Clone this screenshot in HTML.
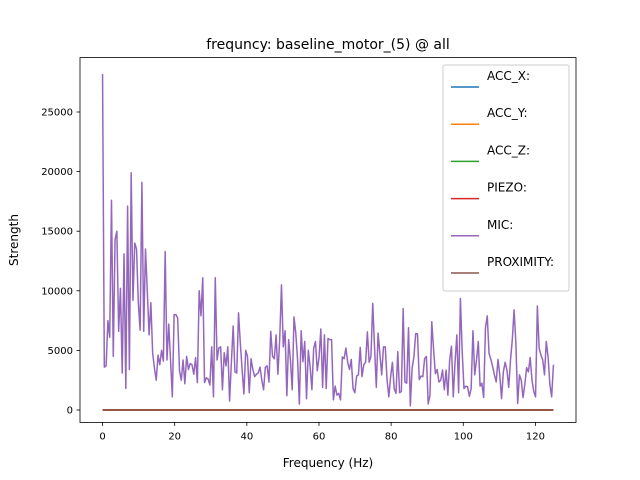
<!DOCTYPE html>
<html><head><meta charset="utf-8"><style>
html,body{margin:0;padding:0;background:#fff;}
svg{display:block;font-family:"DejaVu Sans","Liberation Sans",sans-serif;}
</style></head><body>
<svg id="chart" width="640" height="480">
<rect width="640" height="480" fill="#fff"/>
<text x="328" y="49" text-anchor="middle" font-size="14" fill="#000">frequncy: baseline_motor_(5) @ all</text>
<text x="328" y="467" text-anchor="middle" font-size="12">Frequency (Hz)</text>
<text transform="translate(18,240) rotate(-90)" text-anchor="middle" font-size="12">Strength</text>
<g id="plot"></g>
<rect x="80" y="57.6" width="496" height="364.8" fill="none" stroke="#000" stroke-width="0.8"/>
<g id="legend"></g>
</svg>
<script>
const seriesNames = ["ACC_X:","ACC_Y:","ACC_Z:","PIEZO:","MIC:","PROXIMITY:"];
const seriesColors = ["#1f77b4","#ff7f0e","#2ca02c","#d62728","#9467bd","#8c564b"];
const xTicks = [0,20,40,60,80,100,120];
const yTicks = [0,5000,10000,15000,20000,25000];
const freqMax = 125;
const micValues = [28200,3600,3700,7500,6100,17600,4500,14300,15000,6600,10200,3100,13100,1800,17100,3400,19900,9200,14000,13500,9000,6700,19100,6600,13500,10000,6300,9000,4800,3500,2500,4600,3800,5000,4100,13300,4200,7200,4200,1100,8000,8000,7700,3300,2500,4200,2200,4500,3400,3900,3800,3000,4400,2300,10000,7900,11100,2300,2700,2600,2100,5300,
1100,11100,4200,5200,5300,1700,4800,3700,5300,750,4000,7050,3200,3100,8150,5600,3400,1350,5000,4500,1450,4300,3400,2800,3000,3100,3600,2500,1700,3600,3700,2350,6600,4500,4300,6300,3000,5900,10500,5300,6650,1200,5900,4200,1700,7800,6450,4200,500,6650,4050,5750,950,5000,3650,1700,5200,5750,3300,4400,6800,1900,6300,
1800,6000,5900,5900,850,2000,1250,1400,850,4450,4300,5200,4000,3400,4250,1800,1450,2850,2950,5250,2800,3800,4000,6550,4000,4500,8950,5300,1900,6450,4700,2950,5300,5300,2550,1100,2800,4000,1800,1400,4900,1450,1550,8500,2350,2250,6900,350,3500,4450,6400,6400,2550,2850,2800,4300,4500,500,1250,7400,5100,3050,3400,2350,
2500,3350,1700,3350,1250,4200,5350,1100,4000,6300,1450,9350,4900,1800,2000,1950,1150,1800,6650,2950,4200,5750,2000,2250,1050,6900,7900,4750,4250,3650,2950,2350,4250,2950,950,3200,4000,3350,1900,4200,5900,8400,5600,550,2950,2500,1050,2150,3550,3200,4400,2500,1550,1100,8720,5200,4600,4200,2950,5750,4450,2150,1100,3800];
const zeroValues = [0,0];

const NS="http://www.w3.org/2000/svg";
const L=80,R=576,T=57.6,B=422.4;
const xMin=-6.25,xMax=131.25;
const yMin=-1040,yMax=29564;
const xs=v=>L+(v-xMin)/(xMax-xMin)*(R-L);
const ys=v=>B-(v-yMin)/(yMax-yMin)*(B-T);
const plot=document.getElementById('plot');
function mk(tag,attrs,parent){const e=document.createElementNS(NS,tag);for(const k in attrs)e.setAttribute(k,attrs[k]);parent.appendChild(e);return e;}

xTicks.forEach(t=>{
  const g=mk('g',{},plot);
  
  
  mk('line',{x1:xs(t),x2:xs(t),y1:B,y2:B+3.5,stroke:'#000','stroke-width':0.8},g);
  const tx=mk('text',{x:xs(t),y:B+17,'text-anchor':'middle','font-size':10},g);tx.textContent=t;
});
yTicks.forEach(t=>{
  const g=mk('g',{},plot);
  
  
  mk('line',{x1:L-3.5,x2:L,y1:ys(t),y2:ys(t),stroke:'#000','stroke-width':0.8},g);
  const tx=mk('text',{x:L-7,y:ys(t)+3.5,'text-anchor':'end','font-size':10},g);tx.textContent=t;
});

function linePts(vals){const n=vals.length;return vals.map((v,i)=>xs(i*freqMax/(n-1)).toFixed(2)+','+ys(v).toFixed(2)).join(' ');}
seriesNames.forEach((name,i)=>{
  if(i===4)return;
  if(i===5)return;
  const p=mk('polyline',{points:linePts(zeroValues),fill:'none',stroke:seriesColors[i],'stroke-width':1.5},plot);
  
  
});
const mic=mk('polyline',{points:linePts(micValues),fill:'none',stroke:seriesColors[4],'stroke-width':1.5,'stroke-linejoin':'round'},plot);


const prox=mk('polyline',{points:linePts(zeroValues),fill:'none',stroke:seriesColors[5],'stroke-width':1.5},plot);



const lg=document.getElementById('legend');


mk('rect',{x:443,y:65,width:126,height:226,rx:2,fill:'#fff','fill-opacity':0.8,stroke:'#ccc','stroke-width':1},lg);
seriesNames.forEach((name,i)=>{
  const g=mk('g',{},lg);
  
  
  const y0=80+i*37.2;
  mk('line',{x1:451,x2:479,y1:y0+7,y2:y0+7,stroke:seriesColors[i],'stroke-width':1.5},g);
  const t=mk('text',{x:487,y:y0,'font-size':12},g);t.textContent=name;
});
</script>
</body></html>
